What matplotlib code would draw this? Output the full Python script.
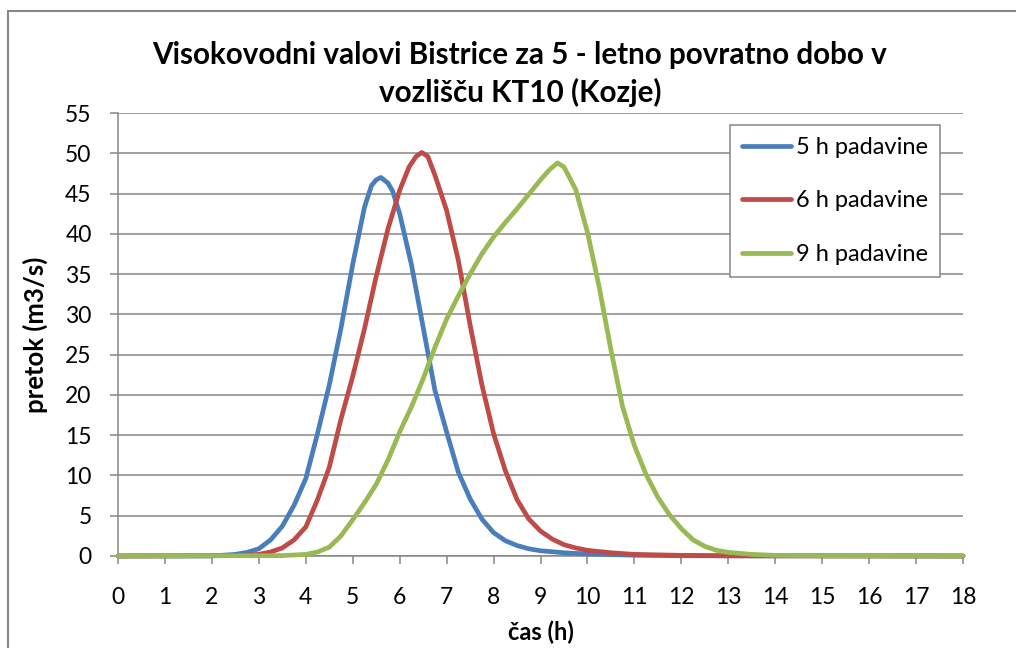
import matplotlib
matplotlib.use('Agg')
from matplotlib import pyplot as plt
from matplotlib.patches import Rectangle

# vrednosti odčitane z grafa (čas v h, pretok v m3/s)
t_5h = [0, 2.0, 2.5, 2.75, 3.0, 3.25, 3.5, 3.75, 4.0, 4.25, 4.5, 4.75, 5.0, 5.25, 5.4, 5.5,
        5.6, 5.75, 5.85, 6.0, 6.25, 6.5, 6.75, 7.0, 7.25, 7.5, 7.75, 8.0, 8.25, 8.5, 8.75,
        9.0, 9.5, 10.0, 11.0, 12.0, 18]
q_5h = [0, 0.0, 0.2, 0.45, 0.9, 2.0, 3.7, 6.3, 9.6, 15.2, 21.2, 28.3, 36.2, 43.3, 46.0, 46.7,
        47.0, 46.3, 45.3, 42.5, 36.2, 28.4, 20.6, 15.4, 10.4, 7.1, 4.6, 2.9, 1.9, 1.3, 0.9,
        0.65, 0.4, 0.25, 0.1, 0.03, 0]

t_6h = [0, 2.5, 3.0, 3.25, 3.5, 3.75, 4.0, 4.25, 4.5, 4.75, 5.0, 5.25, 5.5, 5.75, 6.0, 6.2,
        6.35, 6.47, 6.6, 6.75, 7.0, 7.25, 7.5, 7.75, 8.0, 8.25, 8.5, 8.75, 9.0, 9.25, 9.5,
        9.75, 10.0, 10.5, 11.0, 12.0, 13.0, 18]
q_6h = [0, 0.05, 0.2, 0.5, 1.0, 2.0, 3.6, 7.0, 11.0, 17.0, 22.3, 28.2, 34.7, 40.6, 45.4, 48.3,
        49.6, 50.1, 49.6, 47.3, 42.9, 36.7, 28.7, 21.3, 15.2, 10.6, 7.0, 4.6, 3.1, 2.1, 1.4,
        1.0, 0.7, 0.4, 0.2, 0.08, 0.02, 0]

t_9h = [0, 3.5, 4.0, 4.25, 4.5, 4.75, 5.0, 5.25, 5.5, 5.75, 6.0, 6.25, 6.5, 6.75, 7.0, 7.25,
        7.5, 7.75, 8.0, 8.25, 8.5, 8.75, 9.0, 9.2, 9.36, 9.5, 9.75, 10.0, 10.25, 10.5, 10.75,
        11.0, 11.25, 11.5, 11.75, 12.0, 12.25, 12.5, 12.75, 13.0, 13.5, 14.0, 15.0, 18]
q_9h = [0, 0.05, 0.2, 0.5, 1.1, 2.5, 4.5, 6.6, 8.9, 11.9, 15.4, 18.5, 22.0, 25.9, 29.4, 32.3,
        35.0, 37.5, 39.6, 41.4, 43.1, 44.9, 46.7, 48.0, 48.8, 48.3, 45.5, 40.2, 33.4, 25.6, 18.5,
        13.7, 10.1, 7.3, 5.1, 3.4, 2.0, 1.2, 0.7, 0.45, 0.2, 0.08, 0.02, 0]

labels = ['5 h padavine', '6 h padavine', '9 h padavine']
colors = ['#4A7EBB', '#BE4B48', '#98B954']

x_ticks = list(range(0, 19))
y_ticks = list(range(0, 56, 5))

GRAY = '#868686'

plt.rcParams['font.family'] = ['Lato', 'DejaVu Sans']

fig = plt.figure(figsize=(10.16, 6.48), dpi=100)
ax = fig.add_axes([118 / 1016, 1 - 556 / 648, (963 - 118) / 1016, (556 - 113) / 648])

for t, q, lab, col in zip([t_5h, t_6h, t_9h], [q_5h, q_6h, q_9h], labels, colors):
    ax.plot(t, q, color=col, lw=3.4, label=lab, solid_capstyle='round',
            solid_joinstyle='round', clip_on=False, zorder=3)

ax.set_xlim(0, 18)
ax.set_ylim(0, 55)
ax.set_xticks(x_ticks)
ax.set_yticks(y_ticks)
ax.tick_params(axis='both', labelsize=16.5, color=GRAY, width=1.1, length=6, direction='out')
ax.tick_params(axis='x', pad=16)
ax.tick_params(axis='y', pad=13)

ax.grid(axis='y', color=GRAY, lw=1.1)
ax.set_axisbelow(True)
for side in ['top', 'right']:
    ax.spines[side].set_visible(False)
for side in ['left', 'bottom']:
    ax.spines[side].set_color(GRAY)
    ax.spines[side].set_linewidth(1.1)

ax.set_xlabel('čas (h)', fontsize=17, fontweight='bold')
ax.set_ylabel('pretok (m3/s)', fontsize=18.5, fontweight='bold')
ax.xaxis.set_label_coords(0.5, (556 - 632) / 443)
ax.xaxis.label.set_va('center')
ax.yaxis.set_label_coords((35 - 118) / 845, 0.5)
ax.yaxis.label.set_va('center')

fig.text(520 / 1016, 1 - 74 / 648,
         'Visokovodni valovi Bistrice za 5 - letno povratno dobo v\nvozlišču KT10 (Kozje)',
         ha='center', va='center', fontsize=21.3, fontweight='bold', linespacing=1.4)

leg = ax.legend(loc='upper left', bbox_to_anchor=(730 / 1016, 1 - 125 / 648),
                bbox_transform=fig.transFigure, borderaxespad=0, fontsize=17,
                fancybox=False, framealpha=1, edgecolor=GRAY, handlelength=2.1,
                handletextpad=0.2, labelspacing=1.38, borderpad=0.5)
leg.get_frame().set_linewidth(1.1)

# okvir grafikona
fig.patches.append(Rectangle((8 / 1016, -0.1), 1.1, 1.1 - 10.7 / 648,
                             transform=fig.transFigure, fill=False,
                             edgecolor=GRAY, lw=1.5))

fig.savefig('out.png', dpi=100)
